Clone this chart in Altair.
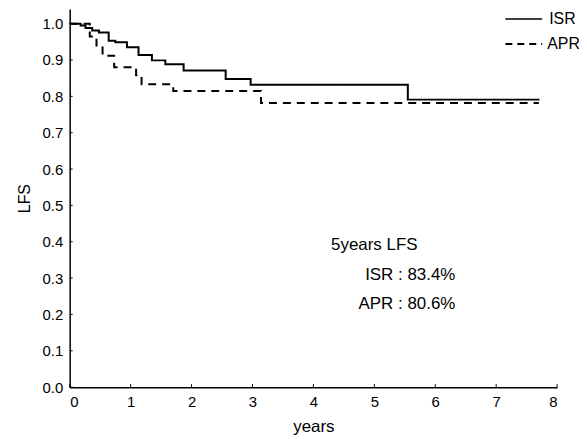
import altair as alt
import pandas as pd

# Kaplan-Meier style step data
isr_years = [0, 0.18, 0.26, 0.37, 0.48, 0.64, 0.75, 0.94, 1.13, 1.35, 1.57, 1.87, 2.56, 2.97, 5.55, 7.71]
isr_lfs = [1.0, 0.995, 0.988, 0.981, 0.976, 0.953, 0.949, 0.935, 0.914, 0.899, 0.888, 0.871, 0.848, 0.832, 0.791, 0.791]

apr_years = [0, 0.33, 0.44, 0.54, 0.73, 1.09, 1.18, 1.70, 3.14, 7.70]
apr_lfs = [1.0, 0.965, 0.940, 0.912, 0.880, 0.858, 0.833, 0.815, 0.782, 0.782]

x_ticks = [0, 1, 2, 3, 4, 5, 6, 7, 8]
y_ticks = [0.0, 0.1, 0.2, 0.3, 0.4, 0.5, 0.6, 0.7, 0.8, 0.9, 1.0]

annot_title = "5years LFS"
annot_lines = ["ISR  : 83.4%", "APR : 80.6%"]
legend_labels = ["ISR", "APR"]

FONT = "Liberation Sans"

df = pd.concat([
    pd.DataFrame({"years": isr_years, "LFS": isr_lfs, "group": "ISR"}),
    pd.DataFrame({"years": apr_years, "LFS": apr_lfs, "group": "APR"}),
])

xs = alt.Scale(domain=[0, 8], nice=False, zero=False)
ys = alt.Scale(domain=[0, 1.04], nice=False, zero=False)

x_axis = alt.Axis(values=x_ticks, format="d", title="years", grid=False, ticks=False,
                  labelOverlap=False, labelPadding=7, titlePadding=10, labelFontSize=15, titleFontSize=17,
                  titleFontWeight="normal", labelFont=FONT, titleFont=FONT,
                  domainColor="black", domainWidth=1.5, labelColor="black", titleColor="black")
y_axis = alt.Axis(values=y_ticks, format=".1f", title="LFS", grid=False, ticks=False,
                  labelOverlap=False, labelPadding=7, titlePadding=10, labelFontSize=15, titleFontSize=16,
                  titleFontWeight="normal", labelFont=FONT, titleFont=FONT,
                  domainColor="black", domainWidth=1.5, labelColor="black", titleColor="black")

lines = alt.Chart(df).mark_line(interpolate="step-after", color="black", strokeWidth=2).encode(
    x=alt.X("years:Q", scale=xs, axis=x_axis),
    y=alt.Y("LFS:Q", scale=ys, axis=y_axis),
    strokeDash=alt.StrokeDash("group:N", scale=alt.Scale(domain=["ISR", "APR"], range=[[1, 0], [8, 6]]), legend=None),
    detail="group:N",
)

ytick_df = pd.DataFrame({"v": y_ticks})
xtick_df = pd.DataFrame({"v": x_ticks})
yt = alt.Chart(ytick_df).mark_rule(color="black", strokeWidth=1).encode(
    y=alt.Y("v:Q", scale=ys, axis=y_axis, title="LFS"), x=alt.value(0), x2=alt.value(3))
xt = alt.Chart(xtick_df).mark_rule(color="black", strokeWidth=1).encode(
    x=alt.X("v:Q", scale=xs, axis=x_axis, title="years"), y=alt.value(380), y2=alt.value(377))

# legend drawn manually
leg_solid = alt.Chart(pd.DataFrame({"g": ["ISR"]})).mark_rule(color="black", strokeWidth=1.5).encode(
    x=alt.value(438), x2=alt.value(475), y=alt.value(10))
leg_dash = alt.Chart(pd.DataFrame({"g": ["APR"]})).mark_rule(color="black", strokeWidth=2, strokeDash=[7, 5]).encode(
    x=alt.value(438), x2=alt.value(475), y=alt.value(35))
leg_isr = alt.Chart(pd.DataFrame({"g": [legend_labels[0]]})).mark_text(
    align="left", baseline="middle", font=FONT, fontSize=16, color="black").encode(
    x=alt.value(482), y=alt.value(10), text="g:N")
leg_apr = alt.Chart(pd.DataFrame({"g": [legend_labels[1]]})).mark_text(
    align="left", baseline="middle", font=FONT, fontSize=16, color="black").encode(
    x=alt.value(480), y=alt.value(35), text="g:N")

annot_df = pd.DataFrame({
    "years": [4.29, 6.33, 6.33],
    "LFS": [0.378, 0.296, 0.214],
    "label": [annot_title] + annot_lines,
})
ann_left = alt.Chart(annot_df.iloc[[0]]).mark_text(align="left", baseline="alphabetic", font=FONT, fontSize=17, color="black").encode(
    x=alt.X("years:Q", scale=xs, axis=x_axis, title="years"),
    y=alt.Y("LFS:Q", scale=ys, axis=y_axis, title="LFS"), text="label:N")
ann_right = alt.Chart(annot_df.iloc[[1, 2]]).mark_text(align="right", baseline="alphabetic", font=FONT, fontSize=17, color="black").encode(
    x=alt.X("years:Q", scale=xs, axis=x_axis, title="years"),
    y=alt.Y("LFS:Q", scale=ys, axis=y_axis, title="LFS"), text="label:N")

chart = alt.layer(lines, yt, xt, leg_solid, leg_dash, leg_isr, leg_apr, ann_left, ann_right).properties(
    width=490, height=380,
    autosize=alt.AutoSizeParams(type="none"),
    padding={"left": 62, "top": 0, "right": 22, "bottom": 49},
).configure_view(stroke=None)

chart.save("out.html", embed_options={"renderer": "svg", "actions": False})
